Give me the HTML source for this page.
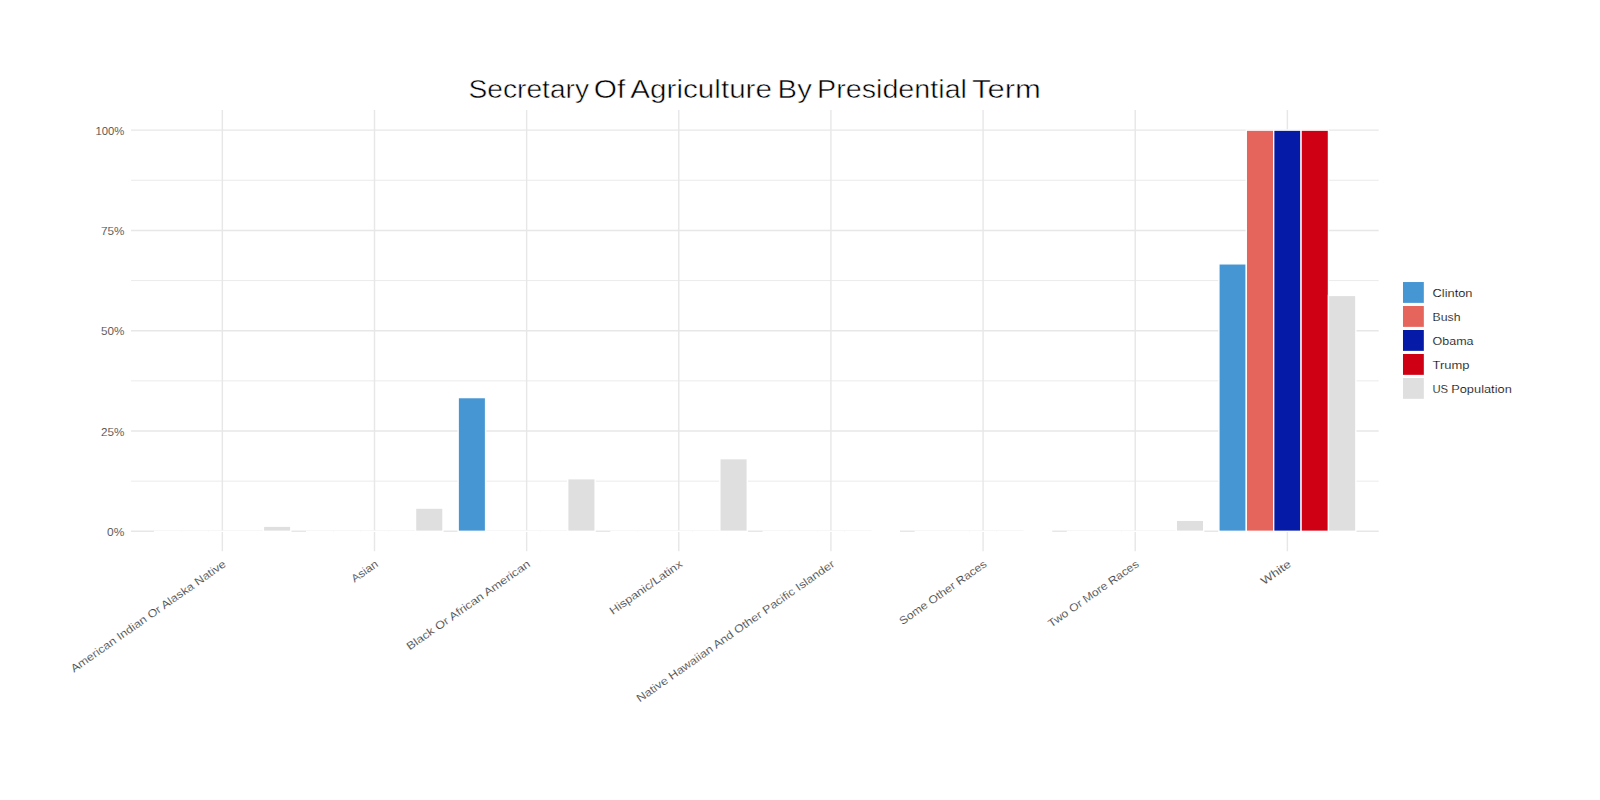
<!DOCTYPE html>
<html lang="en">
<head>
<meta charset="utf-8">
<title>Secretary Of Agriculture By Presidential Term</title>
<style>
html,body{margin:0;padding:0;background:#fff;}
body{width:1600px;height:800px;overflow:hidden;font-family:"Liberation Sans",sans-serif;}
svg{display:block;}
svg text{font-family:"Liberation Sans",sans-serif;}
.ax text{font-size:11px;fill:#474747;stroke:#fff;stroke-width:0.1px;}
.ti text{font-size:26.4px;fill:#000;stroke:#fff;stroke-width:0.5px;}
.lg text{font-size:11.3px;fill:#000;stroke:#fff;stroke-width:0.18px;}
</style>
</head>
<body>
<svg width="1600" height="800" viewBox="0 0 1600 800">
<rect width="1600" height="800" fill="#fff"/>
<g stroke="#E7E7E7" stroke-width="0.85" fill="none">
<line x1="131.05" x2="1378.67" y1="481.16" y2="481.16"/>
<line x1="131.05" x2="1378.67" y1="380.87" y2="380.87"/>
<line x1="131.05" x2="1378.67" y1="280.58" y2="280.58"/>
<line x1="131.05" x2="1378.67" y1="180.29" y2="180.29"/>
</g>
<g stroke="#E7E7E7" stroke-width="1.42" fill="none">
<line x1="131.05" x2="1378.67" y1="531.30" y2="531.30"/>
<line x1="131.05" x2="1378.67" y1="431.01" y2="431.01"/>
<line x1="131.05" x2="1378.67" y1="330.72" y2="330.72"/>
<line x1="131.05" x2="1378.67" y1="230.44" y2="230.44"/>
<line x1="131.05" x2="1378.67" y1="130.15" y2="130.15"/>
<line x1="222.34" x2="222.34" y1="110.10" y2="551.30"/>
<line x1="374.49" x2="374.49" y1="110.10" y2="551.30"/>
<line x1="526.64" x2="526.64" y1="110.10" y2="551.30"/>
<line x1="678.79" x2="678.79" y1="110.10" y2="551.30"/>
<line x1="830.93" x2="830.93" y1="110.10" y2="551.30"/>
<line x1="983.08" x2="983.08" y1="110.10" y2="551.30"/>
<line x1="1135.23" x2="1135.23" y1="110.10" y2="551.30"/>
<line x1="1287.38" x2="1287.38" y1="110.10" y2="551.30"/>
</g>
<g stroke="#fff" stroke-width="1.35" stroke-linejoin="miter">
<path d="M153.87 531.30H181.26" fill="none"/>
<path d="M181.26 531.30H208.65" fill="none"/>
<path d="M208.65 531.30H236.03" fill="none"/>
<path d="M236.03 531.30H263.42" fill="none"/>
<rect x="263.42" y="526.21" width="27.39" height="5.09" fill="#DFDFDF"/>
<path d="M306.02 531.30H333.41" fill="none"/>
<path d="M333.41 531.30H360.79" fill="none"/>
<path d="M360.79 531.30H388.18" fill="none"/>
<path d="M388.18 531.30H415.57" fill="none"/>
<rect x="415.57" y="508.11" width="27.39" height="23.19" fill="#DFDFDF"/>
<rect x="458.17" y="397.60" width="27.39" height="133.70" fill="#4696D4"/>
<path d="M485.56 531.30H512.94" fill="none"/>
<path d="M512.94 531.30H540.33" fill="none"/>
<path d="M540.33 531.30H567.72" fill="none"/>
<rect x="567.72" y="478.75" width="27.39" height="52.55" fill="#DFDFDF"/>
<path d="M610.32 531.30H637.71" fill="none"/>
<path d="M637.71 531.30H665.09" fill="none"/>
<path d="M665.09 531.30H692.48" fill="none"/>
<path d="M692.48 531.30H719.87" fill="none"/>
<rect x="719.87" y="458.69" width="27.39" height="72.61" fill="#DFDFDF"/>
<path d="M762.47 531.30H789.85" fill="none"/>
<path d="M789.85 531.30H817.24" fill="none"/>
<path d="M817.24 531.30H844.63" fill="none"/>
<path d="M844.63 531.30H872.01" fill="none"/>
<rect x="872.01" y="530.50" width="27.39" height="0.80" fill="#DFDFDF"/>
<path d="M914.62 531.30H942.00" fill="none"/>
<path d="M942.00 531.30H969.39" fill="none"/>
<path d="M969.39 531.30H996.78" fill="none"/>
<path d="M996.78 531.30H1024.16" fill="none"/>
<rect x="1024.16" y="530.30" width="27.39" height="1.00" fill="#DFDFDF"/>
<path d="M1066.77 531.30H1094.15" fill="none"/>
<path d="M1094.15 531.30H1121.54" fill="none"/>
<path d="M1121.54 531.30H1148.93" fill="none"/>
<path d="M1148.93 531.30H1176.31" fill="none"/>
<rect x="1176.31" y="520.27" width="27.39" height="11.03" fill="#DFDFDF"/>
<rect x="1218.91" y="263.85" width="27.39" height="267.45" fill="#4696D4"/>
<rect x="1246.30" y="130.15" width="27.39" height="401.15" fill="#E5645C"/>
<rect x="1273.69" y="130.15" width="27.39" height="401.15" fill="#051AA6"/>
<rect x="1301.07" y="130.15" width="27.39" height="401.15" fill="#D00014"/>
<rect x="1328.46" y="295.42" width="27.39" height="235.88" fill="#DFDFDF"/>
</g>
<g class="ax" text-anchor="end">
<text x="124.4" y="535.90" textLength="17.3" lengthAdjust="spacingAndGlyphs">0%</text>
<text x="124.4" y="435.61" textLength="23.4" lengthAdjust="spacingAndGlyphs">25%</text>
<text x="124.4" y="335.32" textLength="23.4" lengthAdjust="spacingAndGlyphs">50%</text>
<text x="124.4" y="235.04" textLength="23.4" lengthAdjust="spacingAndGlyphs">75%</text>
<text x="124.4" y="134.75" textLength="28.9" lengthAdjust="spacingAndGlyphs">100%</text>
</g>
<g class="ax" text-anchor="end">
<text transform="translate(226.74 565.70) rotate(-35)" textLength="186.5" lengthAdjust="spacingAndGlyphs">American Indian Or Alaska Native</text>
<text transform="translate(378.89 565.70) rotate(-35)" textLength="29.8" lengthAdjust="spacingAndGlyphs">Asian</text>
<text transform="translate(531.04 565.70) rotate(-35)" textLength="148.0" lengthAdjust="spacingAndGlyphs">Black Or African American</text>
<text transform="translate(683.19 565.70) rotate(-35)" textLength="86.0" lengthAdjust="spacingAndGlyphs">Hispanic/Latinx</text>
<text transform="translate(835.33 565.70) rotate(-35)" textLength="238.7" lengthAdjust="spacingAndGlyphs">Native Hawaiian And Other Pacific Islander</text>
<text transform="translate(987.48 565.70) rotate(-35)" textLength="103.7" lengthAdjust="spacingAndGlyphs">Some Other Races</text>
<text transform="translate(1139.63 565.70) rotate(-35)" textLength="108.0" lengthAdjust="spacingAndGlyphs">Two Or More Races</text>
<text transform="translate(1291.78 565.70) rotate(-35)" textLength="34.0" lengthAdjust="spacingAndGlyphs">White</text>
</g>
<g class="ti">
<text y="98"><tspan x="468.5" textLength="120.5" lengthAdjust="spacingAndGlyphs">Secretary</tspan> <tspan x="593.7" textLength="31.5" lengthAdjust="spacingAndGlyphs">Of</tspan> <tspan x="630.3" textLength="141.7" lengthAdjust="spacingAndGlyphs">Agriculture</tspan> <tspan x="777.6" textLength="34.2" lengthAdjust="spacingAndGlyphs">By</tspan> <tspan x="817.0" textLength="150.0" lengthAdjust="spacingAndGlyphs">Presidential</tspan> <tspan x="972.0" textLength="69.0" lengthAdjust="spacingAndGlyphs">Term</tspan></text>
</g>
<g stroke="#fff" stroke-width="1.35">
<rect x="1402.3" y="281.35" width="22.2" height="22.2" fill="#4696D4"/>
<rect x="1402.3" y="305.34" width="22.2" height="22.2" fill="#E5645C"/>
<rect x="1402.3" y="329.33" width="22.2" height="22.2" fill="#051AA6"/>
<rect x="1402.3" y="353.32" width="22.2" height="22.2" fill="#D00014"/>
<rect x="1402.3" y="377.31" width="22.2" height="22.2" fill="#DFDFDF"/>
</g>
<g class="lg">
<text x="1432.5" y="296.90" textLength="40.0" lengthAdjust="spacingAndGlyphs">Clinton</text>
<text x="1432.5" y="320.89" textLength="28.0" lengthAdjust="spacingAndGlyphs">Bush</text>
<text x="1432.5" y="344.88" textLength="41.0" lengthAdjust="spacingAndGlyphs">Obama</text>
<text x="1432.5" y="368.87" textLength="37.0" lengthAdjust="spacingAndGlyphs">Trump</text>
<text y="392.86"><tspan x="1432.4" textLength="15.7" lengthAdjust="spacingAndGlyphs">US</tspan> <tspan x="1451.2" textLength="60.6" lengthAdjust="spacingAndGlyphs">Population</tspan></text>
</g>
</svg>
</body>
</html>
